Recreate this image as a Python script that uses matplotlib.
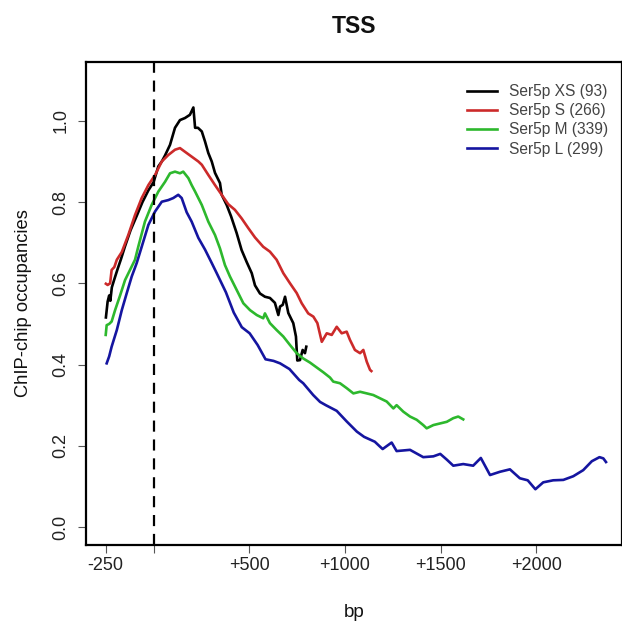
import matplotlib
matplotlib.use("Agg")
import matplotlib.pyplot as plt

plt.rcParams['font.family'] = ['Liberation Sans', 'DejaVu Sans']

# ---- data ----
xs_x = [-249, -240, -232, -226, -218, -205, -188, -170, -150, -120, -89, -58, -27, 0, 25, 43, 60, 86, 112, 138, 164, 190, 208,
        217, 232, 252, 269, 286, 304, 321, 347, 356, 382, 405, 434, 460, 487, 513, 530, 556, 582, 608, 634, 652, 661, 675,
        687, 704, 730, 744, 751, 765, 779, 791, 798]
xs_y = [0.516, 0.555, 0.570, 0.557, 0.590, 0.610, 0.635, 0.660, 0.690, 0.731, 0.765, 0.800, 0.829, 0.849, 0.888, 0.900,
        0.915, 0.941, 0.983, 1.002, 1.007, 1.015, 1.033, 0.983, 0.983, 0.974, 0.949, 0.921, 0.900, 0.872, 0.847, 0.818,
        0.793, 0.765, 0.724, 0.682, 0.652, 0.625, 0.595, 0.575, 0.567, 0.564, 0.552, 0.522, 0.543, 0.547, 0.567, 0.527,
        0.502, 0.469, 0.410, 0.411, 0.436, 0.428, 0.444]

s_x = [-249, -240, -227, -219, -205, -192, -166, -132, -97, -62, -27, 8, 43, 77, 112, 138, 164, 199, 234, 252, 286, 321, 356,
       390, 425, 460, 495, 530, 573, 608, 643, 678, 713, 748, 774, 808, 835, 856, 879, 905, 931, 957, 983, 1009, 1026, 1052,
       1079, 1096, 1114, 1131, 1138]
s_y = [0.599, 0.596, 0.600, 0.633, 0.640, 0.658, 0.677, 0.719, 0.768, 0.810, 0.842, 0.867, 0.900, 0.916, 0.929, 0.933,
       0.924, 0.912, 0.900, 0.892, 0.867, 0.842, 0.818, 0.795, 0.781, 0.760, 0.736, 0.713, 0.690, 0.678, 0.658, 0.625,
       0.600, 0.576, 0.551, 0.526, 0.518, 0.502, 0.456, 0.477, 0.473, 0.493, 0.477, 0.481, 0.461, 0.436, 0.428, 0.436,
       0.407, 0.387, 0.384]

m_x = [-250, -245, -232, -219, -201, -175, -149, -123, -97, -80, -45, -10, 25, 60, 86, 112, 138, 155, 182, 199, 217, 252, 286,
       321, 347, 373, 399, 434, 469, 504, 539, 573, 582, 608, 643, 678, 713, 748, 782, 817, 852, 887, 922, 939, 974, 1009,
       1044, 1079, 1114, 1148, 1183, 1218, 1253, 1270, 1305, 1340, 1375, 1409, 1427, 1462, 1497, 1532, 1566, 1592, 1618]
m_y = [0.473, 0.497, 0.500, 0.506, 0.534, 0.570, 0.608, 0.633, 0.658, 0.690, 0.752, 0.793, 0.826, 0.850, 0.871, 0.875,
       0.871, 0.875, 0.859, 0.842, 0.826, 0.793, 0.752, 0.719, 0.686, 0.645, 0.617, 0.584, 0.551, 0.534, 0.522, 0.514,
       0.526, 0.502, 0.485, 0.469, 0.448, 0.428, 0.415, 0.405, 0.393, 0.381, 0.368, 0.358, 0.354, 0.342, 0.329, 0.333,
       0.329, 0.325, 0.317, 0.309, 0.292, 0.300, 0.284, 0.272, 0.264, 0.251, 0.243, 0.251, 0.255, 0.259, 0.268, 0.272,
       0.265]

l_x = [-245, -232, -219, -192, -166, -140, -114, -88, -62, -27, 8, 43, 77, 103, 129, 147, 173, 199, 234, 269, 304, 330, 378,
       419, 461, 502, 544, 585, 627, 661, 710, 761, 782, 834, 870, 900, 957, 1009, 1062, 1100, 1156, 1183, 1197, 1244, 1270,
       1340, 1409, 1462, 1498, 1532, 1566, 1618, 1670, 1710, 1758, 1810, 1862, 1914, 1955, 1995, 2036, 2088, 2141, 2193,
       2245, 2290, 2330, 2350, 2364]
l_y = [0.403, 0.420, 0.444, 0.485, 0.534, 0.576, 0.617, 0.650, 0.690, 0.744, 0.777, 0.801, 0.805, 0.810, 0.818, 0.810,
       0.775, 0.752, 0.712, 0.683, 0.650, 0.625, 0.578, 0.528, 0.492, 0.477, 0.448, 0.413, 0.409, 0.403, 0.389, 0.362,
       0.354, 0.325, 0.308, 0.300, 0.286, 0.260, 0.235, 0.222, 0.210, 0.198, 0.192, 0.208, 0.187, 0.190, 0.172, 0.174,
       0.180, 0.166, 0.151, 0.155, 0.151, 0.170, 0.128, 0.136, 0.142, 0.120, 0.115, 0.093, 0.110, 0.115, 0.116, 0.125,
       0.140, 0.162, 0.172, 0.169, 0.160]

labels = ['Ser5p XS (93)', 'Ser5p S (266)', 'Ser5p M (339)', 'Ser5p L (299)']
colors = ['#000000', '#cc2a2a', '#2db82d', '#1515a0']

x_ticks = [-250, 0, 500, 1000, 1500, 2000]
x_ticklabels = ['-250', '', '+500', '+1000', '+1500', '+2000']
y_ticks = [0.0, 0.2, 0.4, 0.6, 0.8, 1.0]
y_ticklabels = ['0.0', '0.2', '0.4', '0.6', '0.8', '1.0']

# ---- figure ----
W, H = 622, 625
fig = plt.figure(figsize=(W / 100, H / 100), dpi=100)
ax = fig.add_axes([86 / W, 1 - 545 / H, (621.5 - 86) / W, (545 - 62) / H])

series = [(xs_x, xs_y), (s_x, s_y), (m_x, m_y), (l_x, l_y)]
for (sx, sy), lab, c in zip(series, labels, colors):
    ax.plot(sx, sy, color=c, lw=1.9, label=lab, solid_joinstyle='round')

ax.axvline(0, color='black', lw=1.6, linestyle=(0, (5, 3.5)))

ax.set_xlim(-353, 2445)
ax.set_ylim(-0.0443, 1.145)

ax.set_xticks(x_ticks)
ax.set_xticklabels(x_ticklabels)
ax.set_yticks(y_ticks)
ax.set_yticklabels(y_ticklabels, rotation=90, va='center')

ax.tick_params(axis='both', direction='out', length=6, width=0.8, color='#555555',
               labelsize=13, labelcolor='#222222')
ax.tick_params(axis='x', pad=2.5)
ax.tick_params(axis='y', pad=6)
for sp in ax.spines.values():
    sp.set_linewidth(1.6)

ax.set_title('TSS', fontsize=16.5, fontweight='bold', pad=21, color='#111111')
ax.set_xlabel('bp', fontsize=13.5, labelpad=22, color='#111111')
ax.set_ylabel('ChIP-chip occupancies', fontsize=13.2, labelpad=15, color='#111111')

leg = ax.legend(loc='upper left', bbox_to_anchor=((473 - 86) / (621.5 - 86) - 0.012, (545 - 84) / (545 - 62)),
                frameon=False, fontsize=11.2, handlelength=1.95, handletextpad=0.75,
                labelspacing=0.27, borderaxespad=0, borderpad=0)
for t in leg.get_texts():
    t.set_color('#444444')

fig.savefig('out.png', dpi=100)
